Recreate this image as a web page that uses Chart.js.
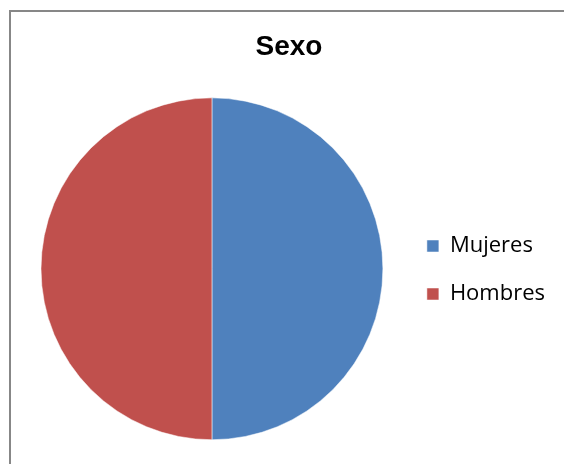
<!DOCTYPE html>
<html>
<head>
<meta charset="utf-8">
<script src="https://cdn.jsdelivr.net/npm/chart.js@4"></script>
<style>
	html, body { margin: 0; padding: 0; background: #fff; overflow: hidden; }
	#frame {
		position: absolute;
		left: 9px;
		top: 10px;
		width: 600px;
		height: 500px;
		border: 2px solid #878787;
	}
	#wrap {
		position: absolute;
		left: 0;
		top: 0;
		width: 553px;
		height: 452px;
	}
</style>
</head>
<body>
<div id="frame">
	<div id="wrap"><canvas id="pie-chart"></canvas></div>
</div>
<script>
// datos
const categories = ["Mujeres", "Hombres"];
const values = [50, 50];
const colors = ["#4F81BD", "#C0504D"];
const chartTitle = "Sexo";

const ctx = document.querySelector("#pie-chart").getContext("2d");

let pChart = new Chart(ctx, {
	type: "pie",
	data: {
		labels: categories,
		datasets: [
			{
				backgroundColor: colors,
				data: values,
				borderWidth: 0.5,
				borderColor: "#ffffff"
			}
		]
	},
	options: {
		animation: false,
		responsive: true,
		maintainAspectRatio: false,
		layout: {
			padding: { left: 12, right: 9, top: 0, bottom: 24 }
		},
		plugins: {
			title: {
				display: true,
				text: chartTitle,
				color: "#000",
				font: { family: "'Liberation Sans', Arial, sans-serif", size: 28, weight: "bold" },
				padding: { top: 18, bottom: 34 }
			},
			legend: {
				position: "right",
				// empty legend title only used to push the items down
				title: {
					display: true,
					text: " ",
					font: { size: 10 },
					padding: { top: 38, bottom: 38 }
				},
				labels: {
					color: "#000",
					boxWidth: 12,
					boxHeight: 12,
					padding: 26,
					font: { family: "'Open Sans', sans-serif", size: 22 }
				},
				onClick: function () {
					return false;
				}
			},
			tooltip: { enabled: false }
		}
	}
});
</script>
</body>
</html>
